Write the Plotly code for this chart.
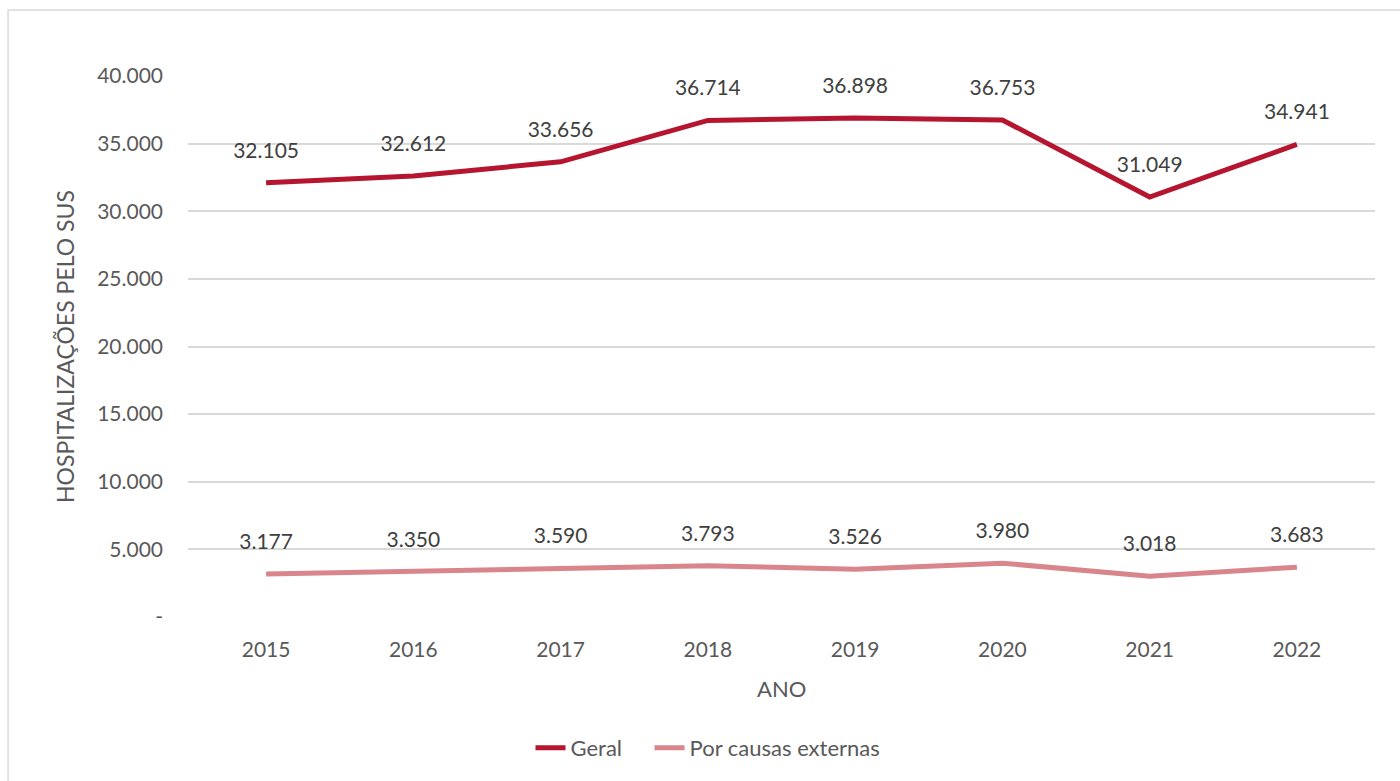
import plotly.graph_objects as go

# ========== DATA ==========
anos = ['2015', '2016', '2017', '2018', '2019', '2020', '2021', '2022']
geral = [32105, 32612, 33656, 36714, 36898, 36753, 31049, 34941]
externas = [3177, 3350, 3590, 3793, 3526, 3980, 3018, 3683]
y_ticks = [0, 5000, 10000, 15000, 20000, 25000, 30000, 35000, 40000]
y_ticktext = ['-', '5.000', '10.000', '15.000', '20.000', '25.000', '30.000', '35.000', '40.000']

FONT = 'Lato, Open Sans, sans-serif'
GRAY = '#595959'
FS = 21

fig = go.Figure()

# transparent markers push the data labels further above the line
fig.add_trace(go.Scatter(
    x=anos, y=geral, name='Geral\u00a0\u00a0\u00a0\u00a0',
    mode='lines+markers+text',
    line=dict(color='#B5152F', width=5),
    marker=dict(size=30, color='rgba(0,0,0,0)'),
    text=[f'{v:,}'.replace(',', '.') for v in geral],
    textposition='top center',
    textfont=dict(size=FS, color='#404040', family=FONT),
    cliponaxis=False,
))

fig.add_trace(go.Scatter(
    x=anos, y=externas, name='Por causas externas',
    mode='lines+markers+text',
    line=dict(color='#D9858C', width=5),
    marker=dict(size=30, color='rgba(0,0,0,0)'),
    text=[f'{v:,}'.replace(',', '.') for v in externas],
    textposition='top center',
    textfont=dict(size=FS, color='#404040', family=FONT),
    cliponaxis=False,
))

# chart border
fig.add_shape(type='rect', xref='paper', yref='paper',
              x0=-0.1516, x1=1.2, y0=-0.5, y1=1.122,
              line=dict(color='#D9D9D9', width=1.5), fillcolor='rgba(0,0,0,0)')

# cut-off title above the chart (only its lower edge shows in the source)
fig.add_annotation(text='<b>2015 a 2022</b>', xref='paper', yref='paper',
                   x=-0.1508, y=1.1274, xanchor='left', yanchor='bottom',
                   showarrow=False, font=dict(family='Liberation Serif', size=30, color='black'))

# axis titles
fig.add_annotation(text='HOSPITALIZAÇÕES PELO SUS', xref='paper', yref='paper',
                   x=(65 - 188) / 1187, y=(617 - 346) / 541, textangle=-90,
                   xanchor='center', yanchor='middle',
                   showarrow=False, font=dict(family=FONT, size=23, color=GRAY))
fig.add_annotation(text='ANO', xref='paper', yref='paper',
                   x=(782 - 188) / 1187, y=(617 - 688) / 541,
                   xanchor='center', yanchor='middle',
                   showarrow=False, font=dict(family=FONT, size=22, color=GRAY))

fig.update_layout(
    width=1400, height=781,
    margin=dict(l=188, r=25, t=76, b=164),
    paper_bgcolor='white', plot_bgcolor='white',
    font=dict(family=FONT, size=FS, color=GRAY),
    showlegend=True,
    legend=dict(orientation='h', x=(708 - 188) / 1187, xanchor='center',
                y=(617 - 748) / 541, yanchor='middle',
                font=dict(size=22, color=GRAY)),
    xaxis=dict(type='category', showgrid=False, showline=False, ticks='',
               ticklabelstandoff=18, tickfont=dict(size=FS, color=GRAY)),
    yaxis=dict(range=[0, 40000], tickvals=y_ticks, ticktext=y_ticktext,
               showgrid=True, gridcolor='#D9D9D9', gridwidth=1.5,
               zeroline=False, showline=False, ticks='',
               ticklabelstandoff=24, tickfont=dict(size=FS, color=GRAY)),
)

fig.write_html('out.html', config={'displayModeBar': False},
               post_script="document.body.style.margin='0';document.body.style.overflow='hidden';")
